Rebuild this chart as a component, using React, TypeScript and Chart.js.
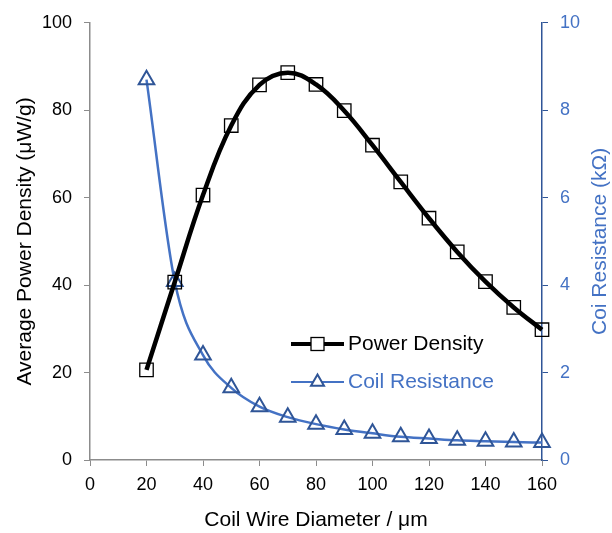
import React, { useEffect, useRef } from 'react';
import { Chart, registerables } from 'chart.js';

Chart.register(...registerables);

const diameters = [20, 30, 40, 50, 60, 70, 80, 90, 100, 110, 120, 130, 140, 150, 160];
const powerDensity = [20.6, 40.7, 60.6, 76.5, 85.8, 88.6, 85.9, 79.9, 72.0, 63.6, 55.3, 47.6, 40.8, 34.9, 29.8];
const coilResistance = [8.7, 4.08, 2.4, 1.65, 1.22, 0.98, 0.82, 0.7, 0.61, 0.53, 0.49, 0.45, 0.43, 0.41, 0.4];

const xTitle = 'Coil Wire Diameter / μm';
const yTitle = 'Average Power Density (μW/g)';
const y1Title = 'Coi Resistance (kΩ)';
const legendLabels = ['Power Density', 'Coil Resistance'];

const FONT = "'Liberation Sans', Arial, sans-serif";
const BLUE = '#4472C4';
const DARKBLUE = '#2F5597';
const GRAY = '#8c8c8c';

const decorPlugin = {
  id: 'decor',
  afterDraw(chart: any) {
    const ctx = chart.ctx as CanvasRenderingContext2D;
    const area = chart.chartArea;
    ctx.save();
    ctx.font = `21px ${FONT}`;
    ctx.textAlign = 'center';
    ctx.textBaseline = 'middle';
    // x title
    ctx.fillStyle = '#000';
    ctx.fillText(xTitle, (area.left + area.right) / 2, 520);
    // left title
    ctx.save();
    ctx.translate(25, (area.top + area.bottom) / 2);
    ctx.rotate(-Math.PI / 2);
    ctx.fillText(yTitle, 0, 0);
    ctx.restore();
    // right title
    ctx.save();
    ctx.fillStyle = BLUE;
    ctx.translate(600, (area.top + area.bottom) / 2);
    ctx.rotate(-Math.PI / 2);
    ctx.fillText(y1Title, 0, 0);
    ctx.restore();

    // legend
    const lx0 = 291, lx1 = 344, mx = 317.5;
    const rows = [344, 382];
    ctx.strokeStyle = '#000';
    ctx.lineWidth = 4;
    ctx.beginPath();
    ctx.moveTo(lx0, rows[0]);
    ctx.lineTo(lx1, rows[0]);
    ctx.stroke();
    ctx.fillStyle = '#fff';
    ctx.lineWidth = 1.3;
    ctx.fillRect(mx - 6.5, rows[0] - 6.5, 13, 13);
    ctx.strokeRect(mx - 6.5, rows[0] - 6.5, 13, 13);
    ctx.textAlign = 'left';
    ctx.fillStyle = '#000';
    ctx.fillText(legendLabels[0], 348, rows[0]);
    ctx.strokeStyle = BLUE;
    ctx.lineWidth = 2;
    ctx.beginPath();
    ctx.moveTo(lx0, rows[1]);
    ctx.lineTo(lx1, rows[1]);
    ctx.stroke();
    const r = 7.5;
    ctx.strokeStyle = DARKBLUE;
    ctx.fillStyle = '#fff';
    ctx.beginPath();
    ctx.moveTo(mx, rows[1] - r);
    ctx.lineTo(mx + r * Math.sqrt(3) / 2, rows[1] + r / 2);
    ctx.lineTo(mx - r * Math.sqrt(3) / 2, rows[1] + r / 2);
    ctx.closePath();
    ctx.fill();
    ctx.stroke();
    ctx.fillStyle = BLUE;
    ctx.fillText(legendLabels[1], 348, rows[1]);
    ctx.restore();
  },
};

export default function App() {
  const canvasRef = useRef<HTMLCanvasElement | null>(null);

  useEffect(() => {
    const canvas = canvasRef.current;
    if (!canvas) return;
    const chart = new Chart(canvas, {
      type: 'line',
      data: {
        datasets: [
          {
            label: legendLabels[0],
            data: diameters.map((d, i) => ({ x: d, y: powerDensity[i] })),
            yAxisID: 'y',
            borderColor: '#000',
            borderWidth: 4.5,
            tension: 0.4,
            pointStyle: 'rect',
            pointRadius: 9.5,
            pointBorderWidth: 1.3,
            pointBorderColor: '#000',
            pointBackgroundColor: 'rgba(0,0,0,0)',
            clip: false as any,
            order: 0,
          },
          {
            label: legendLabels[1],
            data: diameters.map((d, i) => ({ x: d, y: coilResistance[i] })),
            yAxisID: 'y1',
            borderColor: BLUE,
            borderWidth: 2.5,
            cubicInterpolationMode: 'monotone',
            pointStyle: 'triangle',
            pointRadius: 9,
            pointBorderWidth: 2,
            pointBorderColor: DARKBLUE,
            pointBackgroundColor: 'rgba(0,0,0,0)',
            clip: false as any,
            order: 1,
          },
        ],
      },
      options: {
        responsive: false,
        animation: false,
        devicePixelRatio: 1,
        layout: { padding: { top: 19, left: 0, right: 0, bottom: 0 } },
        plugins: {
          legend: { display: false },
          tooltip: { enabled: false },
        },
        scales: {
          x: {
            type: 'linear',
            min: 0,
            max: 160,
            ticks: { stepSize: 20, color: '#000', font: { family: FONT, size: 18 }, padding: 8, maxRotation: 0 },
            grid: { drawOnChartArea: false, tickLength: 6, color: GRAY },
            border: { color: GRAY, width: 1.5 },
            afterFit: (s: any) => { s.height = 73; },
          },
          y: {
            position: 'left',
            min: 0,
            max: 100,
            ticks: { stepSize: 20, color: '#000', font: { family: FONT, size: 18 }, padding: 12 },
            grid: { drawOnChartArea: false, tickLength: 6, color: GRAY },
            border: { color: GRAY, width: 1.5 },
            afterFit: (s: any) => { s.width = 90; },
          },
          y1: {
            position: 'right',
            min: 0,
            max: 10,
            ticks: { stepSize: 2, color: BLUE, font: { family: FONT, size: 18 }, padding: 12 },
            grid: { drawOnChartArea: false, tickLength: 6, color: DARKBLUE },
            border: { color: DARKBLUE, width: 1.5 },
            afterFit: (s: any) => { s.width = 70; },
          },
        },
      },
      plugins: [decorPlugin],
    });
    return () => chart.destroy();
  }, []);

  return (
    <div style={{ position: 'absolute', left: 0, top: 0, width: 612, height: 533, background: '#fff' }}>
      <canvas ref={canvasRef} width={612} height={533} style={{ display: 'block' }} />
    </div>
  );
}
